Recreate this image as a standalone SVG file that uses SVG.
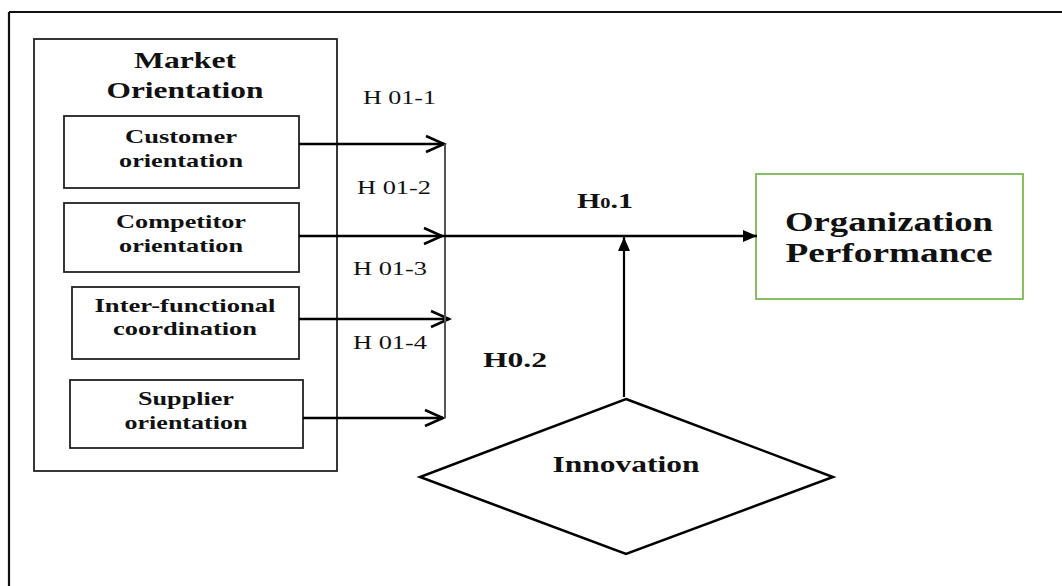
<svg xmlns="http://www.w3.org/2000/svg" width="1062" height="586" viewBox="0 0 1062 586">
<defs>
<style>
.box{fill:#fff;stroke:#222;stroke-width:1.8}
.t{font-family:"Liberation Serif","Times New Roman",serif;font-weight:bold;fill:#111;text-anchor:middle}
.h{font-family:"Liberation Serif","Times New Roman",serif;fill:#111;font-size:18px}
.ln{fill:none;stroke:#000;stroke-width:2.5}
</style>
<marker id="chev" markerUnits="userSpaceOnUse" markerWidth="24" markerHeight="24" viewBox="-20 -12 24 24" refX="0" refY="0" orient="auto">
<path d="M-18,-8 L0,0 L-18,8" fill="none" stroke="#000" stroke-width="2.5"/>
</marker>
<marker id="tri" markerUnits="userSpaceOnUse" markerWidth="20" markerHeight="20" viewBox="-16 -10 20 20" refX="0" refY="0" orient="auto">
<path d="M-14,-6 L0,0 L-14,6 Z" fill="#000"/>
</marker>
</defs>
<rect width="1062" height="586" fill="#fff"/>
<g id="frame">
<path d="M9,12 H1062 M9,12 V586" fill="none" stroke="#111" stroke-width="2.2"/>
</g>
<g id="market-orientation">
<rect class="box" x="34" y="39" width="303" height="432"/>
<text class="t" font-size="23" x="185" y="68" textLength="102" lengthAdjust="spacingAndGlyphs">Market</text>
<text class="t" font-size="23" x="185" y="98" textLength="157" lengthAdjust="spacingAndGlyphs">Orientation</text>
</g>
<g id="customer">
<rect class="box" x="64" y="116" width="235" height="72"/>
<text class="t" font-size="19" x="181" y="143" textLength="112" lengthAdjust="spacingAndGlyphs">Customer</text>
<text class="t" font-size="19" x="181" y="167" textLength="124" lengthAdjust="spacingAndGlyphs">orientation</text>
</g>
<g id="competitor">
<rect class="box" x="64" y="203" width="235" height="69"/>
<text class="t" font-size="19" x="181" y="228" textLength="130" lengthAdjust="spacingAndGlyphs">Competitor</text>
<text class="t" font-size="19" x="181" y="252" textLength="124" lengthAdjust="spacingAndGlyphs">orientation</text>
</g>
<g id="interfunctional">
<rect class="box" x="72" y="287" width="227" height="72"/>
<text class="t" font-size="19" x="185" y="312" textLength="181" lengthAdjust="spacingAndGlyphs">Inter-functional</text>
<text class="t" font-size="19" x="185" y="335" textLength="144" lengthAdjust="spacingAndGlyphs">coordination</text>
</g>
<g id="supplier">
<rect class="box" x="70" y="380" width="233" height="68"/>
<text class="t" font-size="19" x="186" y="405" textLength="96" lengthAdjust="spacingAndGlyphs">Supplier</text>
<text class="t" font-size="19" x="186" y="429" textLength="123" lengthAdjust="spacingAndGlyphs">orientation</text>
</g>
<g id="organization-performance">
<rect x="756" y="174" width="267" height="125" fill="#fff" stroke="#7ab851" stroke-width="1.8"/>
<text class="t" font-size="27" x="889" y="231" textLength="208" lengthAdjust="spacingAndGlyphs">Organization</text>
<text class="t" font-size="27" x="889" y="262" textLength="207" lengthAdjust="spacingAndGlyphs">Performance</text>
</g>
<g id="innovation">
<polygon points="626,399 833,477 626,554 420,477" fill="#fff" stroke="#000" stroke-width="2.5"/>
<text class="t" font-size="23" x="626" y="472" textLength="147" lengthAdjust="spacingAndGlyphs">Innovation</text>
</g>
<g id="connectors">
<path class="ln" d="M299,144 H444" marker-end="url(#chev)"/>
<path class="ln" d="M299,236 H442" marker-end="url(#chev)"/>
<path class="ln" d="M299,319 H449" marker-end="url(#chev)"/>
<path class="ln" d="M303,418 H443" marker-end="url(#chev)"/>
<path d="M445,144 V418" fill="none" stroke="#555" stroke-width="2"/>
<path class="ln" d="M442,236 H757" marker-end="url(#tri)"/>
<path d="M624,397 V237" fill="none" stroke="#000" stroke-width="2.2" marker-end="url(#tri)"/>
</g>
<g id="labels">
<text class="h" x="363" y="104" textLength="73" lengthAdjust="spacingAndGlyphs">H 01-1</text>
<text class="h" x="357" y="194" textLength="74" lengthAdjust="spacingAndGlyphs">H 01-2</text>
<text class="h" x="353" y="275" textLength="74" lengthAdjust="spacingAndGlyphs">H 01-3</text>
<text class="h" x="353" y="349" textLength="74" lengthAdjust="spacingAndGlyphs">H 01-4</text>
<text class="t" font-size="22" x="577" y="208" style="text-anchor:start" textLength="56" lengthAdjust="spacingAndGlyphs">H<tspan font-size="15">0</tspan>.1</text>
<text class="t" font-size="21" x="483" y="367" style="text-anchor:start" textLength="64" lengthAdjust="spacingAndGlyphs">H0.2</text>
</g>
</svg>
